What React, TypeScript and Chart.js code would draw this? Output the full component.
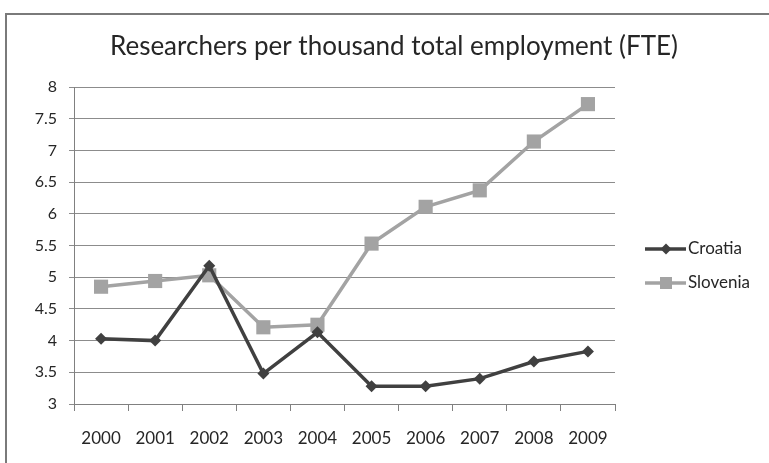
import React, { useEffect, useRef } from "react";
import { Chart, registerables } from "chart.js";

Chart.register(...registerables);

const TITLE = "Researchers per thousand total employment (FTE)";
const YEARS = ["2000", "2001", "2002", "2003", "2004", "2005", "2006", "2007", "2008", "2009"];
const CROATIA = [4.03, 4.0, 5.18, 3.48, 4.13, 3.28, 3.28, 3.4, 3.67, 3.83];
const SLOVENIA = [4.85, 4.94, 5.03, 4.21, 4.25, 5.53, 6.11, 6.37, 7.14, 7.73];
const SERIES_NAMES = ["Croatia", "Slovenia"];
const Y_MIN = 3;
const Y_MAX = 8;
const Y_STEP = 0.5;

const FONT = "Lato, 'Open Sans', sans-serif";
const DARK = "#404040";
const LIGHT = "#a3a3a3";

const framePlugin = {
  id: "frameTitleLegend",
  afterDraw(chart: any) {
    const ctx = chart.ctx as CanvasRenderingContext2D;
    ctx.save();
    // outer frame (only left and top visible)
    ctx.strokeStyle = "#7a7a7a";
    ctx.lineWidth = 2;
    ctx.beginPath();
    ctx.moveTo(6, chart.height);
    ctx.lineTo(6, 14);
    ctx.lineTo(chart.width, 14);
    ctx.stroke();

    // title
    ctx.fillStyle = "#262626";
    ctx.font = `26px ${FONT}`;
    ctx.textAlign = "center";
    ctx.textBaseline = "middle";
    ctx.fillText(TITLE, 394, 47);

    // legend
    const items = chart.data.datasets;
    const ys = [249, 283];
    items.forEach((ds: any, i: number) => {
      const y = ys[i];
      ctx.strokeStyle = ds.borderColor;
      ctx.lineWidth = 3.5;
      ctx.beginPath();
      ctx.moveTo(645, y);
      ctx.lineTo(686, y);
      ctx.stroke();
      ctx.fillStyle = ds.pointBackgroundColor;
      ctx.beginPath();
      if (ds.pointStyle === "rectRot") {
        const r = 5.5;
        ctx.moveTo(666, y - r);
        ctx.lineTo(666 + r, y);
        ctx.lineTo(666, y + r);
        ctx.lineTo(666 - r, y);
        ctx.closePath();
      } else {
        ctx.rect(666 - 6, y - 6, 12, 12);
      }
      ctx.fill();
      ctx.fillStyle = "#262626";
      ctx.font = `17px ${FONT}`;
      ctx.textAlign = "left";
      ctx.textBaseline = "middle";
      ctx.fillText(ds.label, 688, y);
    });
    ctx.restore();
  },
};

export default function App() {
  const ref = useRef<HTMLCanvasElement>(null);
  useEffect(() => {
    document.body.style.margin = "0";
    const canvas = ref.current!;
    const chart = new Chart(canvas, {
      type: "line",
      data: {
        labels: YEARS,
        datasets: [
          {
            label: SERIES_NAMES[0],
            data: CROATIA,
            borderColor: DARK,
            backgroundColor: DARK,
            pointBackgroundColor: DARK,
            pointBorderColor: DARK,
            pointStyle: "rectRot",
            pointRadius: 6,
            pointBorderWidth: 0,
            borderWidth: 3.5,
            tension: 0,
          },
          {
            label: SERIES_NAMES[1],
            data: SLOVENIA,
            borderColor: LIGHT,
            backgroundColor: LIGHT,
            pointBackgroundColor: LIGHT,
            pointBorderColor: LIGHT,
            pointStyle: "rect",
            pointRadius: 10,
            pointBorderWidth: 0,
            borderWidth: 3.5,
            tension: 0,
          },
        ],
      },
      options: {
        responsive: false,
        animation: false,
        devicePixelRatio: 1,
        layout: { padding: { top: 87, right: 154, left: 0, bottom: 0 } },
        plugins: {
          legend: { display: false },
          title: { display: false },
          tooltip: { enabled: false },
        },
        scales: {
          x: {
            offset: true,
            grid: {
              offset: true,
              drawOnChartArea: false,
              drawTicks: true,
              tickLength: 7,
              color: "#808080",
              lineWidth: 1,
            },
            border: { color: "#808080", width: 1 },
            ticks: {
              color: "#262626",
              font: { family: FONT, size: 17 },
              padding: 17,
              maxRotation: 0,
            },
            afterFit(scale: any) {
              scale.height = 59;
            },
          },
          y: {
            min: Y_MIN,
            max: Y_MAX,
            grid: {
              color: "#8c8c8c",
              lineWidth: 1,
              tickLength: 5,
            },
            border: { color: "#808080", width: 1 },
            ticks: {
              stepSize: Y_STEP,
              color: "#262626",
              font: { family: FONT, size: 16 },
              padding: 12,
              callback: (v: any) => String(Number(v)),
            },
            afterFit(scale: any) {
              scale.width = 74;
            },
          },
        },
      },
      plugins: [framePlugin],
    });
    return () => chart.destroy();
  }, []);
  return (
    <div style={{ width: 769, height: 463, background: "#fff" }}>
      <canvas ref={ref} width={769} height={463} style={{ display: "block" }} />
    </div>
  );
}
